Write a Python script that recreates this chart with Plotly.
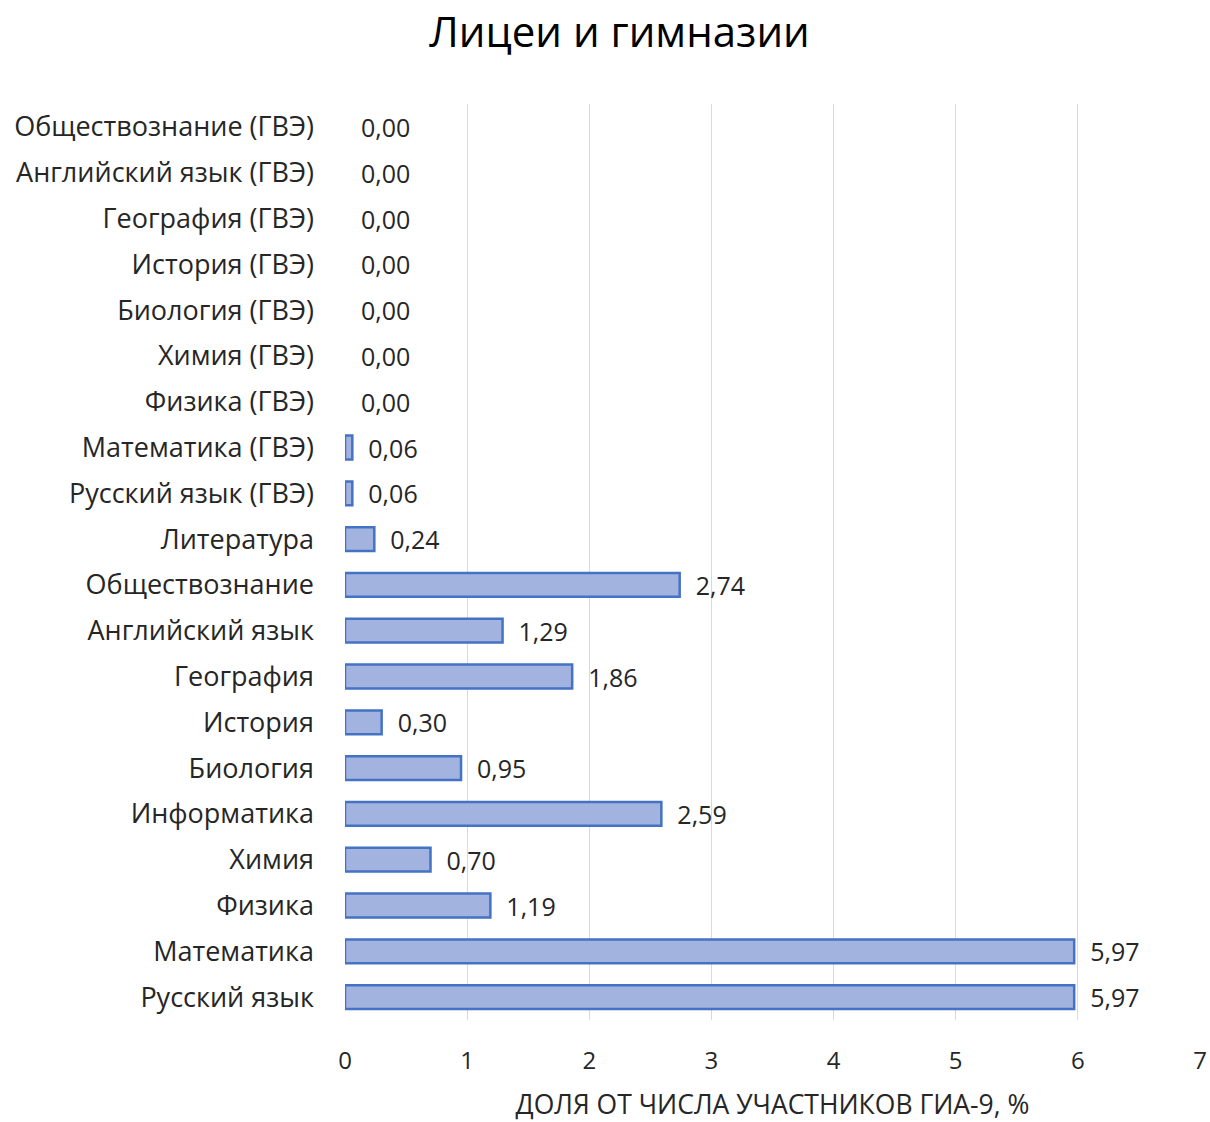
import plotly.graph_objects as go

categories = [
    "Русский язык", "Математика", "Физика", "Химия", "Информатика",
    "Биология", "История", "География", "Английский язык", "Обществознание",
    "Литература", "Русский язык (ГВЭ)", "Математика (ГВЭ)", "Физика (ГВЭ)",
    "Химия (ГВЭ)", "Биология (ГВЭ)", "История (ГВЭ)", "География (ГВЭ)",
    "Английский язык (ГВЭ)", "Обществознание (ГВЭ)",
]
values = [5.97, 5.97, 1.19, 0.70, 2.59, 0.95, 0.30, 1.86, 1.29, 2.74,
          0.24, 0.06, 0.06, 0.00, 0.00, 0.00, 0.00, 0.00, 0.00, 0.00]
x_ticks = [0, 1, 2, 3, 4, 5, 6, 7]

labels = ["  " + f"{v:.2f}".replace(".", ",") for v in values]
line_widths = [2.5 if v > 0 else 0 for v in values]

FONT = "Open Sans"

fig = go.Figure(go.Bar(
    x=values, y=categories, orientation="h",
    marker=dict(color="#A3B3DF", line=dict(color="#4472C4", width=line_widths)),
    text=labels, textposition="outside", cliponaxis=False,
    constraintext="none",
    textfont=dict(family=FONT, size=25, color="#262626"),
))

fig.update_layout(
    width=1210, height=1122,
    paper_bgcolor="white", plot_bgcolor="white",
    margin=dict(l=345, r=10, t=104, b=102, autoexpand=False),
    bargap=0.48,
    showlegend=False,
    title=dict(text="Лицеи и гимназии", x=0.512, xanchor="center",
               y=0.971, yanchor="middle",
               font=dict(family=FONT, size=42, color="#000000")),
    xaxis=dict(range=[0, 7], tickvals=x_ticks, showgrid=True,
               gridcolor="#D9D9D9", gridwidth=1.3, zeroline=False,
               showline=False, ticks="", ticklabelstandoff=24,
               automargin=False,
               tickfont=dict(family=FONT, size=24, color="#262626"),
               title=dict(text="ДОЛЯ ОТ ЧИСЛА УЧАСТНИКОВ ГИА-9, %",
                          standoff=28,
                          font=dict(family=FONT, size=26.5, color="#262626"))),
    yaxis=dict(categoryorder="array", categoryarray=categories,
               showgrid=False, zeroline=False, showline=False, ticks="",
               ticklabelstandoff=30, automargin=False,
               tickfont=dict(family=FONT, size=27, color="#262626")),
)

fig.write_html("out.html", config={"displayModeBar": False},
               post_script="document.body.style.margin='0';document.body.style.overflow='hidden';")
